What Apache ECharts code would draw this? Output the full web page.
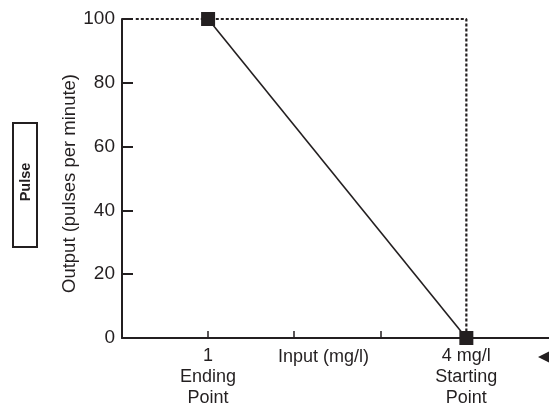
<!DOCTYPE html>
<html>
<head>
<meta charset="utf-8">
<script src="https://cdn.jsdelivr.net/npm/echarts@6/dist/echarts.min.js"></script>
<style>html,body{margin:0;padding:0;background:#fff;}#c{width:549px;height:407px;}</style>
</head>
<body>
<div id="c"></div>
<script>
const xTicks = [1, 2, 3, 4];
const xLabelValues = [1, 4];
const xLabelTexts = {1: "1\nEnding\nPoint", 4: "4 mg/l\nStarting\nPoint"};
const yTicks = [0, 20, 40, 60, 80, 100];
const responseLine = [[1, 100], [4, 0]];
const referenceLine = [[0.16, 100], [4, 100], [4, 0]];
const dark = '#231f20';
const chart = echarts.init(document.getElementById('c'));
chart.setOption({
  animation: false,
  grid: {left: 122, top: 19, right: 0, bottom: 69, outerBoundsMode: 'none', containLabel: false},
  xAxis: {
    type: 'value', min: 0, max: 4.96,
    name: 'Input (mg/l)', nameLocation: 'middle', nameGap: 10, nameMoveOverlap: false,
    nameTextStyle: {fontFamily: 'Liberation Sans', fontSize: 18, color: dark, padding: [0, 24, 0, 0], verticalAlign: 'top'},
    axisLine: {show: true, lineStyle: {color: dark, width: 2}},
    axisTick: {show: true, inside: true, length: 7, customValues: xTicks, lineStyle: {color: dark, width: 1.5}},
    axisLabel: {customValues: xLabelValues, margin: 8, fontFamily: 'Liberation Sans', fontSize: 18, lineHeight: 21, color: dark,
      formatter: v => xLabelTexts[v] || ''},
    splitLine: {show: false}
  },
  yAxis: {
    type: 'value', min: 0, max: 100, interval: 20,
    name: 'Output (pulses per minute)', nameLocation: 'middle', nameGap: 43, nameMoveOverlap: false,
    nameTextStyle: {fontFamily: 'Liberation Sans', fontSize: 18.5, color: dark, padding: [0, 10, 0, 0]},
    axisLine: {show: true, lineStyle: {color: dark, width: 2}},
    axisTick: {show: true, inside: true, length: 11, lineStyle: {color: dark, width: 2}},
    axisLabel: {margin: 7, fontFamily: 'Liberation Sans', fontSize: 19, color: dark,
      formatter: v => yTicks.includes(v) ? String(v) : ''},
    splitLine: {show: false}
  },
  series: [
    {type: 'line', data: referenceLine, symbol: 'none', z: 1,
      lineStyle: {color: dark, width: 2.2, type: [3, 2]}},
    {type: 'line', data: responseLine, symbol: 'rect', symbolSize: 14, z: 3,
      itemStyle: {color: dark}, lineStyle: {color: dark, width: 1.6}}
  ],
  graphic: [
    {type: 'rect', shape: {x: 13, y: 123, width: 24, height: 124},
      style: {fill: '#fff', stroke: dark, lineWidth: 2}},
    {type: 'text', x: 25.5, y: 182, rotation: Math.PI / 2,
      style: {text: 'Pulse', fontFamily: 'Liberation Sans', fontWeight: 'bold', fontSize: 14.5, fill: dark, align: 'center', verticalAlign: 'middle'}},
    {type: 'polygon', shape: {points: [[538, 357], [550, 351], [550, 363]]}, style: {fill: dark}}
  ]
});
</script>
</body>
</html>
